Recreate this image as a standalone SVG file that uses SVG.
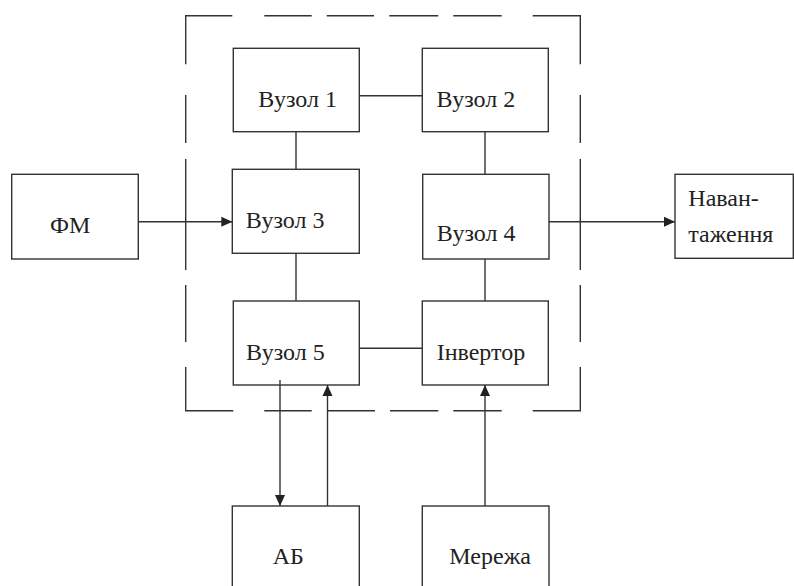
<svg xmlns="http://www.w3.org/2000/svg" width="794" height="586" viewBox="0 0 794 586">
<style>
.box{fill:none;stroke:#333;stroke-width:1.4}
.ln{fill:none;stroke:#333;stroke-width:1.4}
.dash{fill:none;stroke:#333;stroke-width:1.4}
text{font-family:'Liberation Serif','DejaVu Serif',serif;font-size:24px;fill:#222}
</style>
<defs>
<marker id="ah" markerUnits="userSpaceOnUse" markerWidth="12" markerHeight="12" viewBox="0 0 12 12" refX="11" refY="6" orient="auto">
<path d="M0,1 L11,6 L0,11 Z" fill="#222"/>
</marker>
</defs>
<rect width="794" height="586" fill="#fff"/>
<g id="frame">
<path class="dash" d="M232.3,15.7 H185.7 V64.3 M264.3,15.7 H311.7 M326.7,15.7 H374 M389.3,15.7 H438.3 M453.3,15.7 H501.7 M532.7,15.7 H580.3 V64.3 M185.7,95 V143 M185.7,159 V270 M185.7,285 V342 M185.7,367 V410.7 H233.3 M264.3,410.7 H311.7 M327.7,410.7 H375 M390,410.7 H438.3 M453.3,410.7 H501.7 M532.7,410.7 H580.3 V367 M580.3,342 V285 M580.3,270 V159 M580.3,143 V95"/>
</g>
<g id="connectors">
<line class="ln" x1="359.3" y1="95.7" x2="422.3" y2="95.7"/>
<line class="ln" x1="296" y1="131.7" x2="296" y2="169.3"/>
<line class="ln" x1="485" y1="131.7" x2="485" y2="174.3"/>
<line class="ln" x1="296" y1="253.3" x2="296" y2="301"/>
<line class="ln" x1="485" y1="259" x2="485" y2="301"/>
<line class="ln" x1="359.3" y1="348.3" x2="422.3" y2="348.3"/>
<line class="ln" x1="138.3" y1="221.7" x2="232.3" y2="221.7" marker-end="url(#ah)"/>
<line class="ln" x1="549" y1="221.7" x2="675" y2="221.7" marker-end="url(#ah)"/>
<line class="ln" x1="280" y1="380" x2="280" y2="506" marker-end="url(#ah)"/>
<line class="ln" x1="327.5" y1="506" x2="327.5" y2="385" marker-end="url(#ah)"/>
<line class="ln" x1="485" y1="506" x2="485" y2="385" marker-end="url(#ah)"/>
</g>
<g id="vuzol1"><rect class="box" x="233.3" y="48.3" width="126" height="83.4"/><text x="258.3" y="107">Вузол 1</text></g>
<g id="vuzol2"><rect class="box" x="422.3" y="48.3" width="126" height="83.4"/><text x="436.5" y="107">Вузол 2</text></g>
<g id="vuzol3"><rect class="box" x="232.3" y="169.3" width="127" height="84"/><text x="245.7" y="227.7">Вузол 3</text></g>
<g id="vuzol4"><rect class="box" x="422.7" y="174.3" width="126.3" height="84.7"/><text x="436.7" y="241">Вузол 4</text></g>
<g id="fm"><rect class="box" x="11.7" y="174.3" width="126.6" height="84.7"/><text x="50" y="233.3">ФМ</text></g>
<g id="navantazhennia"><rect class="box" x="675" y="174.3" width="118.3" height="84"/><text x="688.3" y="205.7">Наван-</text><text x="688.3" y="241.7">таження</text></g>
<g id="vuzol5"><rect class="box" x="233.3" y="301" width="126" height="84"/><text x="246" y="360">Вузол 5</text></g>
<g id="invertor"><rect class="box" x="422.3" y="301" width="126" height="84"/><text x="436.7" y="360">Інвертор</text></g>
<g id="ab"><rect class="box" x="232.3" y="506" width="127" height="90"/><text x="272.7" y="564.3">АБ</text></g>
<g id="merezha"><rect class="box" x="422.3" y="506" width="126.7" height="90"/><text x="449.3" y="564.3">Мережа</text></g>
</svg>
